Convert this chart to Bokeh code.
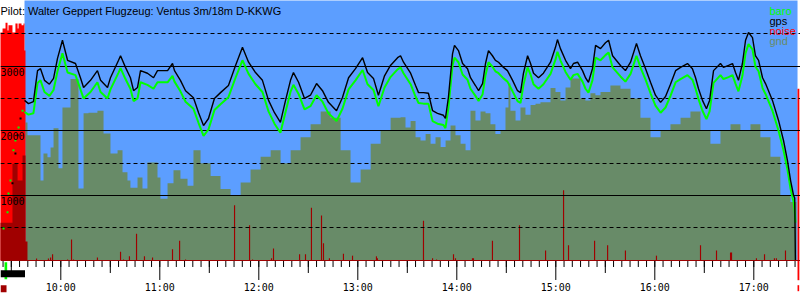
from bokeh.plotting import figure
from bokeh.models import ColumnDataSource, Range1d
from bokeh.core.properties import value
from bokeh.embed import file_html
from bokeh.resources import INLINE

# ---------------- data (times in minutes after midnight, altitudes in m) ----------------
title_text = "Pilot: Walter Geppert Flugzeug: Ventus 3m/18m D-KKWG"

track_time = [578.0, 580.4, 583.4, 585.9, 587.7, 590.1, 593.1, 595.6, 598.0, 601.0, 604.1, 608.9, 611.9, 613.8,
              618.0, 622.2, 624.1, 628.3, 630.1, 635.0, 636.2, 639.2, 642.2, 644.1, 646.5, 648.3, 652.5, 656.2,
              658.6, 664.7, 667.7, 668.9, 672.5, 675.6, 680.4, 683.5, 686.5, 689.5, 693.1, 696.8, 701.6, 705.9,
              710.1, 713.8, 718.0, 722.2, 725.9, 729.5, 733.1, 736.2, 739.2, 741.0, 744.1, 747.7, 751.3, 755.0,
              758.6, 762.2, 767.1, 770.7, 774.4, 778.6, 782.9, 785.9, 789.5, 792.5, 796.2, 799.8, 804.1, 805.9,
              807.7, 812.0, 815.0, 816.8, 819.8, 822.8, 825.3, 828.3, 831.9, 833.1, 834.9, 837.4, 838.6, 841.0,
              843.5, 846.5, 848.3, 851.3, 853.2, 855.6, 857.4, 859.2, 861.6, 863.4, 865.3, 868.3, 870.7, 873.8,
              876.8, 878.6, 880.4, 882.9, 884.7, 886.5, 889.5, 892.5, 896.8, 899.8, 901.0, 902.8, 905.9, 908.9,
              910.7, 913.2, 916.2, 918.0, 919.8, 922.2, 924.1, 927.1, 930.1, 932.0, 934.4, 939.2, 942.2, 945.3,
              948.9, 951.3, 954.4, 957.4, 960.4, 963.5, 966.5, 969.5, 972.6, 975.6, 979.8, 982.8, 984.7, 986.5,
              988.9, 991.3, 993.2, 995.6, 999.8, 1001.6, 1004.7, 1007.1, 1008.9, 1010.7, 1013.1, 1015.0, 1016.8,
              1019.2, 1021.0, 1022.9, 1025.3, 1027.1, 1028.9, 1031.3, 1035.0, 1038.0, 1040.4, 1042.3, 1044.1,
              1044.8, 1045.2]
gps_alt = [2470, 2420, 2450, 2930, 2960, 2780, 2720, 2810, 3120, 3400, 3090, 3040, 2820, 2670,
           2780, 2930, 2780, 2670, 2820, 3090, 3160, 2980, 2820, 2620, 2670, 2930, 2890, 2820,
           2930, 2930, 3040, 2930, 2780, 2620, 2510, 2280, 2080, 2190, 2500, 2590, 2700, 3010,
           3290, 3060, 2900, 2780, 2470, 2280, 2130, 2470, 2780, 2900, 2750, 2500, 2550, 2730,
           2620, 2440, 2310, 2515, 2820, 2960, 3130, 2900, 2810, 2550, 2850, 3010, 3130, 3160,
           3060, 2890, 2700, 2590, 2590, 2580, 2310, 2270, 2240, 2190, 2515, 3190, 3320, 3240,
           3040, 2960, 2820, 2700, 2620, 2730, 3040, 3240, 3160, 3090, 3060, 2980, 2930, 2780,
           2620, 2590, 2890, 3160, 3040, 2890, 2820, 2890, 3060, 3290, 3410, 3270, 3090, 2960,
           3040, 3060, 2930, 2820, 2750, 2960, 3320, 3270, 3360, 3400, 3160, 3010, 2930, 3060,
           3350, 3160, 2960, 2750, 2550, 2440, 2530, 2720, 2930, 2980, 3040, 2960, 2820, 2650,
           2470, 2340, 2470, 2930, 3040, 2980, 3010, 3040, 2900, 2780, 3040, 3400, 3520,
           3440, 3160, 3090, 2820, 2730, 2620, 2470, 2160, 1850, 1540, 1230, 1000,
           960, 0]
baro_alt = [2290, 2250, 2270, 2740, 2780, 2600, 2540, 2630, 2920, 3200, 2900, 2860, 2640, 2500,
            2600, 2750, 2600, 2500, 2640, 2900, 2970, 2800, 2650, 2460, 2500, 2750, 2710, 2650,
            2750, 2750, 2850, 2760, 2610, 2450, 2340, 2120, 1920, 2020, 2320, 2410, 2520, 2820,
            3090, 2880, 2720, 2600, 2300, 2110, 1970, 2290, 2600, 2710, 2570, 2330, 2380, 2550,
            2450, 2270, 2150, 2340, 2640, 2780, 2940, 2720, 2630, 2380, 2670, 2830, 2950, 2980,
            2890, 2720, 2530, 2430, 2420, 2420, 2150, 2110, 2090, 2040, 2350, 3010, 3130, 3060,
            2870, 2790, 2650, 2540, 2460, 2560, 2860, 3060, 2990, 2920, 2890, 2810, 2760, 2610,
            2460, 2430, 2710, 2980, 2870, 2720, 2650, 2720, 2880, 3100, 3220, 3090, 2910, 2790,
            2860, 2880, 2760, 2650, 2590, 2780, 3130, 3090, 3170, 3210, 2980, 2840, 2760, 2880,
            3160, 2980, 2790, 2580, 2390, 2280, 2360, 2540, 2750, 2800, 2860, 2790, 2650, 2490,
            2310, 2180, 2300, 2740, 2860, 2800, 2830, 2860, 2730, 2610, 2850, 3200, 3340,
            3260, 2990, 2920, 2660, 2570, 2460, 2310, 2000, 1700, 1400, 1100, 900,
            760, 580]

# points logged during the tow (sparse)
tow_time = [565.3, 567.7, 568.3, 569.5, 571.3, 572.5, 574.4, 576.8]
tow_baro = [490, 740, 1030, 1230, 1700, 1850, 2050, 2310]
tow_gps_time = [570.7, 572.5, 573.8, 575.6]
tow_gps = [1190, 1650, 1930, 2190]

# terrain below the track: step edges (one more than heights) and heights
gnd_time = [578.6, 579.8, 587.7, 589.5, 591.9, 593.8, 595.6, 598.6, 601.0, 605.9, 610.7, 613.8, 616.8, 622.2,
            625.9, 630.1, 634.4, 637.4, 640.4, 642.2, 646.5, 649.5, 652.5, 658.6, 660.4, 664.7, 668.3, 672.5,
            676.8, 680.4, 684.7, 690.8, 696.8, 702.9, 709.0, 715.0, 721.1, 727.2, 733.2, 739.3, 745.3, 751.4,
            757.5, 763.5, 769.6, 775.6, 781.7, 787.8, 793.8, 799.9, 805.9, 808.9, 812.0, 815.0, 818.0, 821.1,
            824.1, 827.1, 830.2, 833.2, 836.2, 839.2, 842.3, 845.3, 848.3, 851.3, 854.4, 857.4, 860.4, 863.4,
            866.5, 869.5, 871.3, 872.5, 875.6, 878.6, 881.6, 884.7, 887.7, 890.7, 893.8, 896.8, 899.8, 902.8,
            905.9, 908.9, 911.9, 914.9, 917.9, 921.0, 924.0, 927.1, 933.1, 939.2, 945.3, 951.3, 957.4, 963.5,
            969.5, 975.6, 981.6, 987.7, 993.7, 999.8, 1005.9, 1011.9, 1018.0, 1024.0, 1030.1, 1036.1, 1042.2,
            1045.8]
gnd_alt = [2130, 1930, 1230, 1650, 1590, 1740, 2040, 1420, 2360, 2800, 1110, 2270, 2280, 2310,
           1960, 1650, 1700, 1360, 1230, 1120, 1280, 1110, 1510, 1280, 950, 1190, 1390, 1260,
           1150, 1700, 1500, 1300, 1100, 1000, 1200, 1400, 1600, 1700, 1500, 1700, 1900, 2100,
           2300, 2200, 1700, 1200, 1400, 1800, 2000, 2200, 2210, 2050, 2150, 1900, 1850, 1950,
           1800, 1900, 1750, 1850, 2080, 1930, 1800, 1700, 2310, 2160, 2300, 2270, 2100, 1950,
           2000, 2360, 2730, 2310, 2160, 2360, 2250, 2400, 2420, 2440, 2440, 2660, 2600, 2470,
           2670, 2810, 2810, 2500, 2470, 2580, 2550, 2600, 2700, 2650, 2500, 2200, 1900, 2000,
           2100, 2200, 2300, 2000, 1800, 2000, 2100, 2000, 2100, 1900, 1600, 1000, 900]

# noise: spikes during the glide
noise_time = [585.3, 592.5, 593.8, 595.0, 604.1, 606.5, 607.7, 622.2, 636.2, 638.0, 641.6, 645.9, 650.7,
              655.6, 667.7, 672.0, 675.6, 705.3, 714.4, 716.2, 727.7, 728.9, 744.7, 748.3, 751.9, 758.0,
              759.2, 762.8, 771.3, 776.8, 791.3, 791.9, 819.8, 825.3, 827.7, 838.0, 839.2, 849.5, 850.1,
              861.6, 878.0, 893.8, 904.7, 907.7, 923.5, 931.4, 942.2, 961.0, 987.7, 997.4, 1005.9, 1006.5,
              1021.6, 1026.5, 1032.5, 1033.7, 1039.2]
noise_level = [26, 26, 40, 90, 10, 320, 10, 40, 130, 10, 60, 410, 60,
               40, 170, 300, 10, 850, 540, 10, 30, 180, 90, 90, 810, 690,
               260, 30, 100, 70, 60, 30, 610, 30, 10, 90, 30, 30, 30,
               300, 540, 150, 1080, 230, 300, 230, 150, 70, 230, 150, 120, 120,
               30, 90, 30, 30, 150]
# noise during the tow (engine): high and low levels, step edges
tow_noise_time = [563.0, 564.7, 566.5, 567.7, 568.3, 570.7, 572.5, 573.8, 574.4, 576.2, 577.4, 578.0, 578.6]
tow_noise_level = [3520, 3580, 3670, 3550, 3630, 3520, 3660, 3580, 3660, 3630, 3660, 3240]
tow_noise_low_time = [563.0, 570.7, 573.8, 576.8, 578.6, 579.8]
tow_noise_low_level = [580, 1490, 1230, 1620, 290]
# noise at landing
landing_noise_time = [1046.5, 1047.6]
landing_noise_level = 2650

# flight phase markers below the time axis
chart_start = 563.45
takeoff_time = 566.7
tow_end = 578.3
landing_time = 1047.0

hour_ticks = [600, 660, 720, 780, 840, 900, 960, 1020]
hour_labels = ["10:00", "11:00", "12:00", "13:00", "14:00", "15:00", "16:00", "17:00"]
half_hour_ticks = [570, 630, 690, 750, 810, 870, 930, 990]
minor_ticks = list(range(565, 1046, 5))

grid_solid = [1000, 2000, 3000]
grid_dashed = [500, 1500, 2500, 3500]
alt_labels = ["1000", "2000", "3000"]

legend_names = ["baro", "gps", "noise", "gnd"]

# ---------------- styles ----------------
SKY = "#5c9eff"
GND = "#688b68"
BARO = "#00ff00"
NOISE = "#ff0000"
NOISE_DARK = "#a00000"
legend_colors = [BARO, "black", NOISE, GND]

X0, X1 = 563.45, 1048.3
Y0, Y1 = -623, 4014
M_PER_PX = (Y1 - Y0) / 300.0


def steps(edges, heights):
    """Turn step edges + heights into x/y vertex lists for a seamless area."""
    xs, ys = [], []
    for i, h in enumerate(heights):
        xs += [edges[i], edges[i + 1]]
        ys += [h, h]
    return xs, ys


p = figure(width=800, height=300, x_range=Range1d(X0, X1), y_range=Range1d(Y0, Y1),
           output_backend="svg", toolbar_location=None, min_border=0,
           x_axis_type=None, y_axis_type=None)
p.grid.visible = False
p.outline_line_color = None
p.background_fill_color = "white"
p.border_fill_color = "white"

# airborne (gliding) period: sky
p.quad(left=[tow_noise_time[-2]], right=[landing_noise_time[0]], bottom=[-12], top=[Y1 + 100],
       fill_color=SKY, line_color=None)

# terrain
gx, gy = steps(gnd_time, gnd_alt)
p.varea(x=gx, y1=[0] * len(gx), y2=gy, fill_color=GND)

# tow noise
tx, ty = steps(tow_noise_time, tow_noise_level)
p.varea(x=tx, y1=[0] * len(tx), y2=ty, fill_color=NOISE)
lx_, ly_ = steps(tow_noise_low_time, tow_noise_low_level)
p.varea(x=lx_, y1=[0] * len(lx_), y2=ly_, fill_color=NOISE_DARK)
# landing noise
p.quad(left=[landing_noise_time[0]], right=[landing_noise_time[1]], bottom=[-20 * M_PER_PX],
       top=[landing_noise_level], fill_color=NOISE, line_color=None)

# noise spikes
nsrc = ColumnDataSource(dict(x=noise_time, top=noise_level))
p.vbar(x="x", top="top", bottom=0, width=0.7, source=nsrc, fill_color=NOISE_DARK, line_color=None)

# grid
p.hspan(y=grid_dashed, line_color="black", line_width=1, line_dash="4 3")
p.hspan(y=grid_solid, line_color="black", line_width=1)

# tracks
p.line(track_time, baro_alt, line_color=BARO, line_width=2)
p.line(track_time, gps_alt, line_color="black", line_width=1.4)
p.scatter(tow_time, tow_baro, marker="square", size=2, fill_color=BARO, line_color=None)
p.scatter(tow_gps_time, tow_gps, marker="square", size=2, fill_color="black", line_color=None)

# time axis
base = -0.8 * M_PER_PX
p.hspan(y=[base], line_color=NOISE_DARK, line_width=1.2)
p.segment(x0=minor_ticks, x1=minor_ticks, y0=[base] * len(minor_ticks),
          y1=[base - 6 * M_PER_PX] * len(minor_ticks), line_color="black", line_width=1)
p.segment(x0=half_hour_ticks, x1=half_hour_ticks, y0=[base] * len(half_hour_ticks),
          y1=[base - 12 * M_PER_PX] * len(half_hour_ticks), line_color="black", line_width=1)
p.segment(x0=hour_ticks, x1=hour_ticks, y0=[base] * len(hour_ticks),
          y1=[base - 19 * M_PER_PX] * len(hour_ticks), line_color="black", line_width=1)
p.text(x=hour_ticks, y=[base - 21 * M_PER_PX] * len(hour_ticks), text=hour_labels,
       text_font=value("DejaVu Sans Mono"), text_font_size="10px", text_align="center",
       text_baseline="top", text_color="black")

# phase markers below axis
p.quad(left=[takeoff_time - 0.8], right=[takeoff_time + 0.8], top=[-2 * M_PER_PX], bottom=[-19 * M_PER_PX],
       fill_color=BARO, line_color=None)
p.quad(left=[chart_start], right=[tow_end], top=[-10 * M_PER_PX], bottom=[-17 * M_PER_PX],
       fill_color="black", line_color=None)
p.quad(left=[chart_start], right=[takeoff_time + 0.4], top=[-25 * M_PER_PX], bottom=[-32 * M_PER_PX],
       fill_color=NOISE_DARK, line_color=None)
p.quad(left=[landing_time - 0.5], right=[landing_time + 0.5], top=[-25 * M_PER_PX], bottom=[-31 * M_PER_PX],
       fill_color=NOISE, line_color=None)

# altitude labels inside the plot
p.text(x=[X0] * len(grid_solid), y=[v - 1.5 * M_PER_PX for v in grid_solid], text=alt_labels,
       text_font=value("DejaVu Sans Mono"), text_font_size="10px", text_align="left",
       text_baseline="top", text_color="black")

# title
p.text(x=[X0], y=[Y1 - 10.5 * M_PER_PX], text=[title_text], text_font=value("Liberation Sans"),
       text_font_size="11px", text_align="left", text_baseline="alphabetic", text_color="black")

# legend
lgx = X0 + 769 / 800.0 * (X1 - X0)
p.text(x=[lgx] * 4, y=[Y1 - (10.5 + 10 * i) * M_PER_PX for i in range(4)], text=legend_names,
       text_color=legend_colors, text_font=value("Liberation Sans"), text_font_size="11px",
       text_align="left", text_baseline="alphabetic")

open("out.html", "w").write(file_html(p, INLINE))
